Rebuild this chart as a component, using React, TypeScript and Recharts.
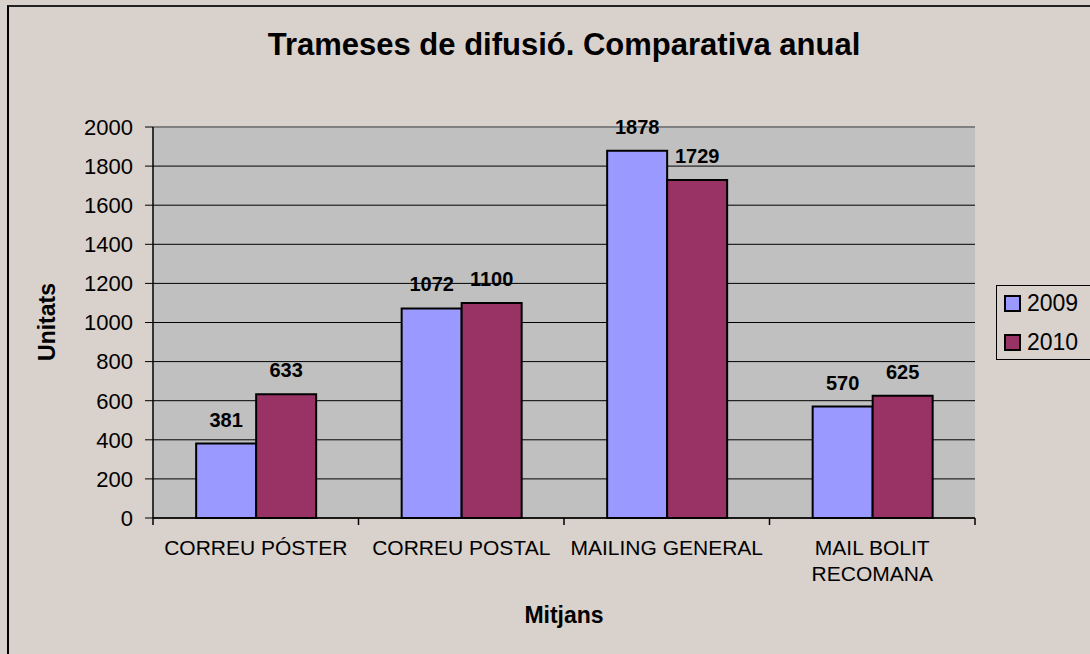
import React from "react";
import {
  BarChart,
  Bar,
  XAxis,
  YAxis,
  CartesianGrid,
  Legend,
  LabelList,
  ReferenceLine,
} from "recharts";

const categories = ["CORREU PÓSTER", "CORREU POSTAL", "MAILING GENERAL", "MAIL BOLIT RECOMANA"];
const values2009 = [381, 1072, 1878, 570];
const values2010 = [633, 1100, 1729, 625];
const yTicks = [0, 200, 400, 600, 800, 1000, 1200, 1400, 1600, 1800, 2000];

const FONT = "Arial, 'Liberation Sans', sans-serif";
const BG = "#D9D1CB";
const PLOT_W = 822; // plot area width, used only as a fallback for the band size
const MAX_CHARS = 16;

const data = categories.map((name, i) => ({
  name,
  y2009: values2009[i],
  y2010: values2010[i],
}));

function wrapLabel(s: string) {
  const lines: string[] = [];
  let cur = "";
  for (const w of s.split(" ")) {
    const next = cur ? cur + " " + w : w;
    if (next.length > MAX_CHARS && cur) {
      lines.push(cur);
      cur = w;
    } else {
      cur = next;
    }
  }
  if (cur) lines.push(cur);
  return lines;
}

// label in the middle of the band, tick marks on the band edges
function CategoryTick(props: any) {
  const { x, y, payload, index } = props;
  const half = payload?.offset || PLOT_W / categories.length / 2;
  const last = index === categories.length - 1;
  const lines = wrapLabel(String(payload.value));
  return (
    <g>
      <line x1={x - half} x2={x - half} y1={y} y2={y + 7} stroke="#000" strokeWidth={1.5} />
      {last && (
        <line x1={x + half} x2={x + half} y1={y} y2={y + 7} stroke="#000" strokeWidth={1.5} />
      )}
      <text x={x} y={y + 37} textAnchor="middle" fontSize={21} fontFamily={FONT} fill="#000">
        {lines.map((ln, i) => (
          <tspan key={i} x={x} dy={i === 0 ? 0 : 26}>
            {ln}
          </tspan>
        ))}
      </text>
    </g>
  );
}

function LegendBox(props: any) {
  const items = props.payload ?? [];
  return (
    <div
      style={{
        position: "relative",
        border: "1px solid #000",
        height: 75,
        boxSizing: "border-box",
        fontFamily: FONT,
        fontSize: 23,
        color: "#000",
      }}
    >
      {items.map((it: any, idx: number) => (
        <div
          key={it.value}
          style={{
            position: "absolute",
            left: 7,
            top: -2 + idx * 39,
            height: 39,
            display: "flex",
            alignItems: "center",
            whiteSpace: "nowrap",
          }}
        >
          <span
            style={{
              display: "inline-block",
              width: 17,
              height: 17,
              boxSizing: "border-box",
              border: "2px solid #000",
              background: it.color,
              marginRight: 6,
            }}
          />
          <span>{it.value}</span>
        </div>
      ))}
    </div>
  );
}

export default function App() {
  return (
    <div
      style={{
        position: "absolute",
        left: 0,
        top: 0,
        width: 1090,
        height: 654,
        overflow: "hidden",
        background: BG,
      }}
    >
      {/* outer chart frame, cut off on the right and bottom */}
      <div
        style={{
          position: "absolute",
          left: 7,
          top: 5,
          width: 2000,
          height: 2000,
          borderTop: "2px solid #222",
          borderLeft: "2px solid #000",
        }}
      />
      <div style={{ position: "absolute", left: 0, top: 0 }}>
        <BarChart
          width={1090}
          height={654}
          data={data}
          margin={{ top: 127, right: 15, bottom: 96, left: 0 }}
          barCategoryGap="21%"
          barGap={0}
        >
          <CartesianGrid
            vertical={false}
            stroke="#000"
            strokeWidth={1}
            fill="#C0C0C0"
            fillOpacity={1}
          />
          <XAxis
            dataKey="name"
            type="category"
            interval={0}
            height={40}
            tickSize={0}
            tickMargin={0}
            tickLine={false}
            tick={<CategoryTick />}
            axisLine={{ stroke: "#000", strokeWidth: 1.5 }}
          />
          <YAxis
            width={153}
            domain={[0, 2000]}
            ticks={yTicks}
            interval={0}
            tickSize={8}
            tickMargin={12}
            tick={{ fontSize: 22, fill: "#000", fontFamily: FONT }}
            axisLine={{ stroke: "#000", strokeWidth: 1.5 }}
            tickLine={{ stroke: "#000" }}
          />
          {/* right edge of the plot frame */}
          <YAxis
            yAxisId="frame"
            orientation="right"
            width={0}
            tick={false}
            tickLine={false}
            axisLine={{ stroke: "#808080", strokeWidth: 2 }}
          />
          <ReferenceLine y={2000} stroke="#808080" strokeWidth={2} />
          <Legend
            layout="vertical"
            align="right"
            verticalAlign="middle"
            width={100}
            wrapperStyle={{ left: 996, top: 285 }}
            content={<LegendBox />}
          />
          <Bar
            dataKey="y2009"
            name="2009"
            fill="#9999FF"
            stroke="#000"
            strokeWidth={2}
            isAnimationActive={false}
          >
            <LabelList
              dataKey="y2009"
              position="top"
              offset={17}
              fill="#000"
              fontSize={20}
              fontWeight={700}
              fontFamily={FONT}
            />
          </Bar>
          <Bar
            dataKey="y2010"
            name="2010"
            fill="#993366"
            stroke="#000"
            strokeWidth={2}
            isAnimationActive={false}
          >
            <LabelList
              dataKey="y2010"
              position="top"
              offset={17}
              fill="#000"
              fontSize={20}
              fontWeight={700}
              fontFamily={FONT}
            />
          </Bar>
        </BarChart>
      </div>
      <svg
        width={1090}
        height={654}
        style={{ position: "absolute", left: 0, top: 0, pointerEvents: "none" }}
      >
        <text x={564} y={55} textAnchor="middle" fontFamily={FONT} fontSize={31} fontWeight={700}>
          Trameses de difusió. Comparativa anual
        </text>
        <text x={564} y={623} textAnchor="middle" fontFamily={FONT} fontSize={23} fontWeight={700}>
          Mitjans
        </text>
        <text
          transform="translate(55,322) rotate(-90)"
          textAnchor="middle"
          fontFamily={FONT}
          fontSize={23}
          fontWeight={700}
        >
          Unitats
        </text>
      </svg>
    </div>
  );
}
